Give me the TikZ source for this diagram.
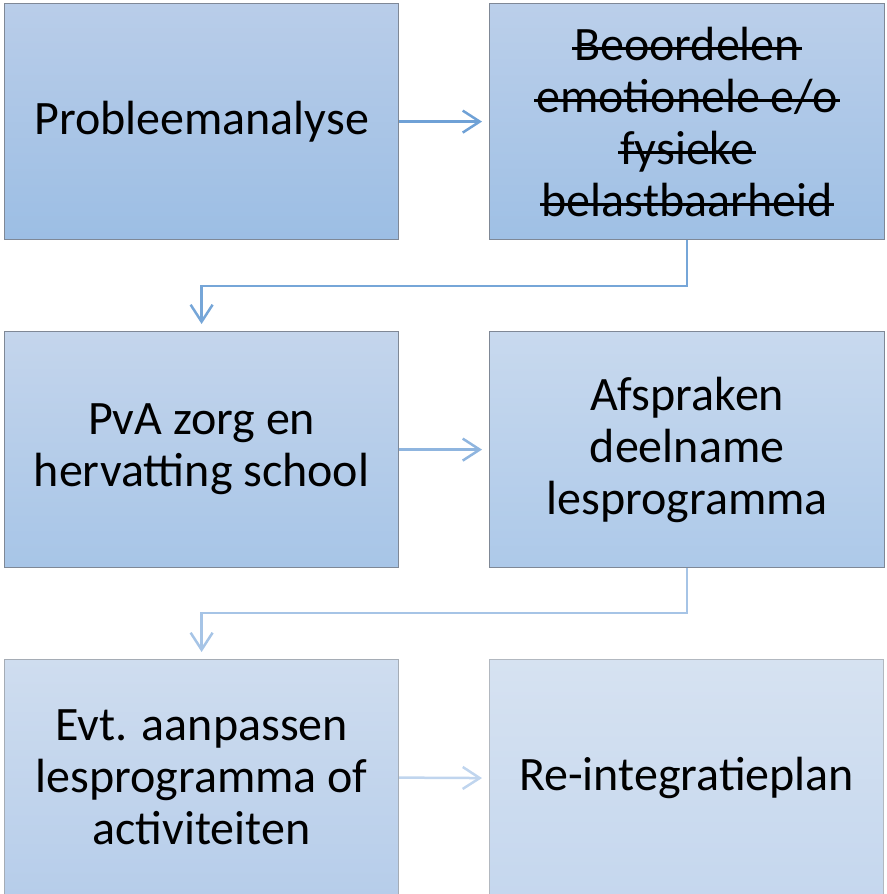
\documentclass[tikz,border=0pt]{standalone}
\usepackage{fontspec}
\setmainfont{Carlito}
\newcommand\mystrike[1]{\leavevmode\setbox0\hbox{#1}\rlap{\kern-2pt\rule[0.22em]{\dimexpr\wd0+4pt\relax}{2.8pt}}\box0}
\usetikzlibrary{arrows.meta}
\definecolor{t1}{HTML}{B9CDE9}\definecolor{b1}{HTML}{9CBEE4}
\definecolor{t2}{HTML}{BBCFEA}\definecolor{b2}{HTML}{9FC0E5}
\definecolor{t3}{HTML}{C4D5EC}\definecolor{b3}{HTML}{A7C5E7}
\definecolor{t4}{HTML}{C8D9EE}\definecolor{b4}{HTML}{ADC9E9}
\definecolor{t5}{HTML}{CFDDEF}\definecolor{b5}{HTML}{B6CDEA}
\definecolor{t6}{HTML}{D6E2F1}\definecolor{b6}{HTML}{C5D7EE}
\definecolor{c1}{HTML}{6FA1D6}
\definecolor{c2}{HTML}{76A6D8}
\definecolor{c3}{HTML}{8FB5DF}
\definecolor{c4}{HTML}{A6C4E6}
\definecolor{c5}{HTML}{C0D5EE}
\definecolor{edge}{HTML}{7F8896}
\begin{document}
\begin{tikzpicture}[x=1pt,y=-1pt,
  box/.style={draw=edge, line width=1.2pt, minimum width=394pt, minimum height=236pt,
    anchor=north west, inner sep=0pt, align=flush center, text width=385pt,
    font=\fontsize{48}{52}\selectfont},
  conn/.style={line width=2.5pt, -{Straight Barb[length=17pt,width=22pt,line width=2.5pt]}, shorten >=7pt}]
\clip (0,0) rectangle (886,894);
\useasboundingbox (0,0) rectangle (886,894);
\node[box, top color=t1, bottom color=b1] (n1) at (4,3) {Probleemanalyse};
\node[box, top color=t2, bottom color=b2, minimum width=395pt] (n2) at (489,3)
  {\mystrike{Beoordelen}\\\mystrike{emotionele e/o}\\\mystrike{fysieke}\\\mystrike{belastbaarheid}};
\node[box, top color=t3, bottom color=b3] (n3) at (4,331) {PvA zorg en\\hervatting school};
\node[box, top color=t4, bottom color=b4, minimum width=395pt] (n4) at (489,331) {Afspraken\\deelname\\lesprogramma};
\node[box, top color=t5, bottom color=b5, draw=edge!70] (n5) at (4,659) {Evt. aanpassen\\lesprogramma of\\activiteiten};
\node[box, top color=t6, bottom color=b6, draw=edge!60, minimum height=237pt] (n6) at (489,659) {Re-integratieplan};
\draw[conn, c1] (n1.east) -- (n2.west);
\draw[conn, c2] (n2.south) -- ++(0,46) -| (n3.north);
\draw[conn, c3] (n3.east) -- (n4.west);
\draw[conn, c4] (n4.south) -- ++(0,45) -| (n5.north);
\draw[conn, c5] (n5.east) -- (n6.west);
\end{tikzpicture}
\end{document}
